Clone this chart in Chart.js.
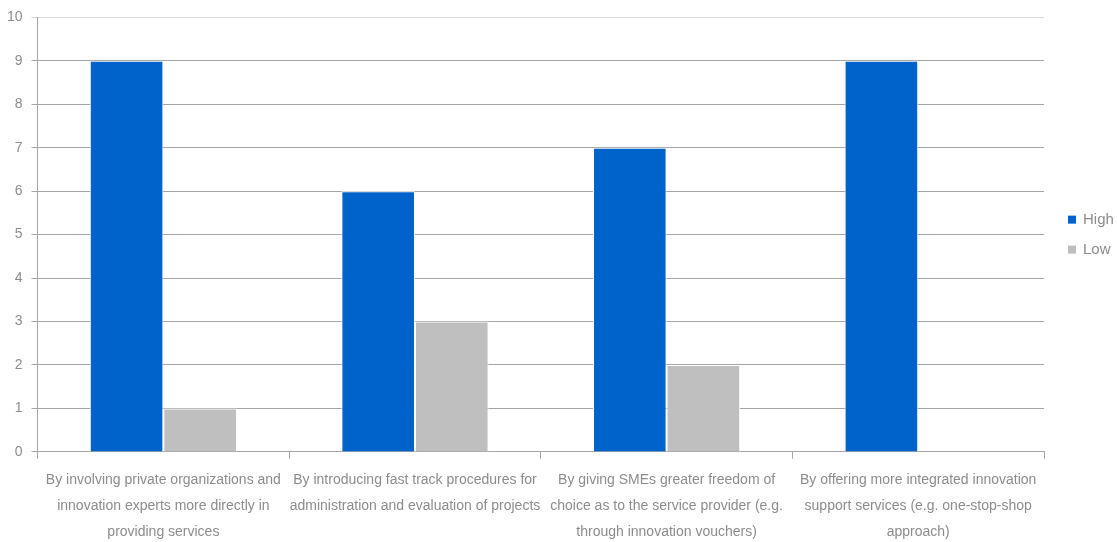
<!DOCTYPE html>
<html>
<head>
<meta charset="utf-8">
<script src="https://cdn.jsdelivr.net/npm/chart.js@4/dist/chart.umd.min.js"></script>
<style>
  html, body { margin: 0; padding: 0; background: #ffffff; }
  #wrap { width: 1117px; height: 542px; position: relative; }
</style>
</head>
<body>
<div id="wrap"><canvas id="c"></canvas></div>
<script>
// Survey answers: how support for SME innovation could be improved
const categories = [
  ["By involving private organizations and", "innovation experts more directly in", "providing services"],
  ["By introducing fast track procedures for", "administration and evaluation of projects"],
  ["By giving SMEs greater freedom of", "choice as to the service provider (e.g.", "through innovation vouchers)"],
  ["By offering more integrated innovation", "support services (e.g. one-stop-shop", "approach)"]
];
const highValues = [9, 6, 7, 9];
const lowValues = [1, 3, 2, 0];
const yTicks = [0, 1, 2, 3, 4, 5, 6, 7, 8, 9, 10];

const textGrey = '#8c8c8c';
const lineGrey = '#a6a6a6';
const fontFamily = 'Liberation Sans, Arial, sans-serif';

// Legend drawn beside the plot, centred on the chart area
const sideLegend = {
  id: 'sideLegend',
  afterDraw(chart) {
    const { ctx, chartArea } = chart;
    const midY = (chartArea.top + chartArea.bottom) / 2;
    const gap = 30;
    const x = chartArea.right + 24;
    ctx.save();
    ctx.font = '15px ' + fontFamily;
    ctx.textBaseline = 'middle';
    chart.data.datasets.forEach((ds, i) => {
      const y = midY - gap / 2 + i * gap;
      ctx.fillStyle = ds.backgroundColor;
      ctx.fillRect(x, y - 4, 8, 8);
      ctx.fillStyle = textGrey;
      ctx.fillText(ds.label, x + 15, y);
    });
    ctx.restore();
  }
};

new Chart(document.getElementById('c'), {
  type: 'bar',
  data: {
    labels: categories,
    datasets: [
      { label: 'High', data: highValues, backgroundColor: '#0063cc', borderColor: '#ffffff', borderWidth: 1, barPercentage: 1.0, categoryPercentage: 0.585 },
      { label: 'Low', data: lowValues, backgroundColor: '#bfbfbf', borderColor: '#ffffff', borderWidth: 1, barPercentage: 1.0, categoryPercentage: 0.585 }
    ]
  },
  plugins: [sideLegend],
  options: {
    responsive: true,
    maintainAspectRatio: false,
    animation: false,
    layout: { padding: { top: 9, left: -2, right: 73, bottom: -11 } },
    plugins: {
      legend: { display: false },
      tooltip: { enabled: false }
    },
    scales: {
      x: {
        grid: { offset: true, drawOnChartArea: false, drawTicks: true, tickLength: 7, color: lineGrey },
        border: { color: lineGrey, width: 1 },
        ticks: {
          color: textGrey, maxRotation: 0, autoSkip: false, padding: 8,
          font: { family: fontFamily, size: 14, lineHeight: 1.86 }
        }
      },
      y: {
        min: 0, max: 10,
        afterBuildTicks: (axis) => { axis.ticks = yTicks.map(v => ({ value: v })); },
        grid: {
          color: (ctx) => ctx.tick && ctx.tick.value === 10 ? '#d9d9d9' : lineGrey,
          tickLength: 6
        },
        border: { color: lineGrey, width: 1 },
        ticks: {
          color: textGrey, padding: 9,
          font: { family: fontFamily, size: 14 }
        }
      }
    }
  }
});
</script>
</body>
</html>
